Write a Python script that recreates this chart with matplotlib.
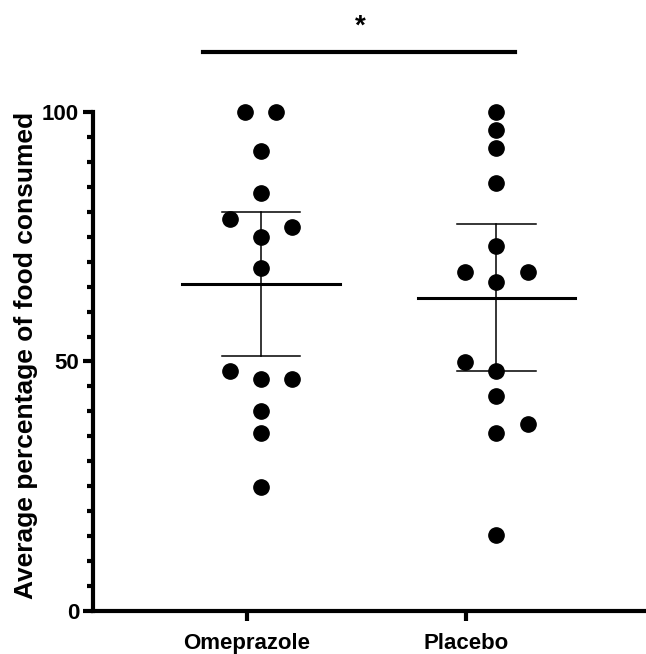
import matplotlib.pyplot as plt
import numpy as np

plt.rcParams['font.family'] = ['Liberation Sans', 'DejaVu Sans']
plt.rcParams['font.weight'] = 'bold'

groups = ['Omeprazole', 'Placebo']
omeprazole = [100, 100, 92.2, 83.8, 78.6, 77.0, 75.0, 68.7, 48.1, 46.5, 46.5, 40.1, 35.7, 24.8]
placebo = [100, 96.4, 92.8, 85.8, 73.1, 67.9, 67.9, 66.0, 49.9, 48.1, 43.0, 37.5, 35.7, 15.2]
# column slot of each dot in the scatter
omeprazole_slot = [-0.5, 0.5, 0, 0, -1, 1, 0, 0, -1, 0, 1, 0, 0, 0]
placebo_slot = [0, 0, 0, 0, 0, -1, 1, 0, -1, 0, 0, 1, 0, 0]
t_crit = 2.160  # 95% CI, df = 13
sig_label = '*'

fig = plt.figure(figsize=(6.46, 6.54), dpi=100)
ax = fig.add_axes([0.144, 0.0658, 0.856, 0.763])

spacing = 0.132
for i, (vals, slots) in enumerate([(omeprazole, omeprazole_slot), (placebo, placebo_slot)]):
    vals = np.array(vals)
    xs = i + np.array(slots) * spacing
    ax.plot(xs, vals, 'o', color='black', markersize=11, clip_on=False, zorder=3)
    m = vals.mean()
    ci = t_crit * vals.std(ddof=1) / np.sqrt(len(vals))
    ax.plot([i - 0.335, i + 0.335], [m, m], color='black', lw=2.2, zorder=4)
    ax.plot([i, i], [m - ci, m + ci], color='black', lw=1.1, zorder=4)
    for y in (m - ci, m + ci):
        ax.plot([i - 0.166, i + 0.166], [y, y], color='black', lw=1.1, zorder=4)

# significance bar
ax.plot([-0.246, 1.079], [112, 112], color='black', lw=3, clip_on=False)
ax.text(0.42, 114.5, sig_label, ha='center', va='bottom', fontsize=20, fontweight='bold')

ax.set_xlim(-0.713, 1.635)
ax.set_ylim(0, 100)
ax.set_xticks([-0.059, 0.870])
ax.set_xticklabels(groups, fontsize=16, fontweight='bold')
ax.set_yticks([0, 50, 100])
ax.set_yticklabels(['0', '50', '100'], fontsize=16, fontweight='bold')
ax.set_yticks(np.arange(0, 101, 5), minor=True)
ax.set_ylabel('Average percentage of food consumed', fontsize=19, fontweight='bold')
ax.yaxis.set_label_coords(-0.100, 0.513)

for s in ['top', 'right']:
    ax.spines[s].set_visible(False)
for s in ['left', 'bottom']:
    ax.spines[s].set_linewidth(3)
ax.tick_params(axis='both', which='major', width=3, length=7)
ax.tick_params(axis='x', which='major', pad=9)
ax.tick_params(axis='y', which='major', pad=3)
ax.tick_params(axis='y', which='minor', width=3, length=4)

plt.savefig('out.png', dpi=100)
